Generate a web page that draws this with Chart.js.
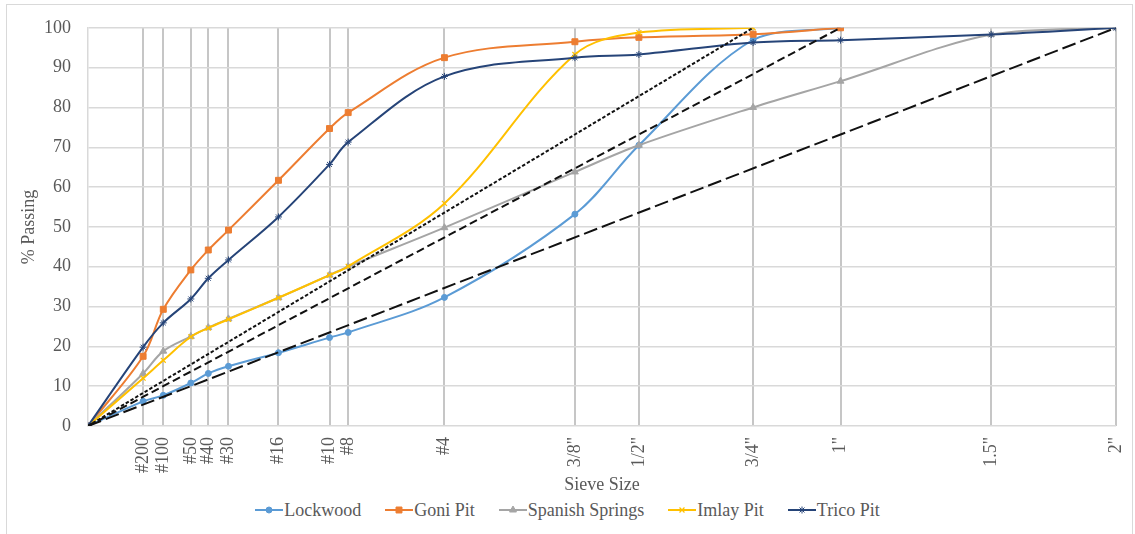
<!DOCTYPE html>
<html>
<head>
<meta charset="utf-8">
<title>Sieve Analysis</title>
<script src="https://cdn.jsdelivr.net/npm/chart.js"></script>
<style>
    body { margin: 0; background: #fff; }
    #wrap { position: relative; width: 1135px; height: 534px; overflow: hidden; background: #fff; }
    #frame { position: absolute; left: 6px; top: 4px; width: 1125px; height: 560px; border: 1px solid #d9d9d9; pointer-events: none; }
    #gradationChart { position: absolute; left: 0; top: 0; }
    #legend {
        position: absolute; left: 0; top: 499px; width: 1135px;
        display: flex; justify-content: center; align-items: center;
        font: 18px "Liberation Serif", "Times New Roman", serif; line-height: 22px; color: #595959;
    }
    .item { display: flex; align-items: center; margin: 0 12px; }
    .item canvas { margin-right: 1px; }
</style>
</head>
<body>
<div id="wrap">
    <canvas id="gradationChart" width="1135" height="496"></canvas>
    <div id="legend"></div>
    <div id="frame"></div>
</div>
<script>
// sieve openings (mm) and their labels
const sieveLabels = ['#200', '#100', '#50', '#40', '#30', '#16', '#10', '#8', '#4', '3/8"', '1/2"', '3/4"', '1"', '1.5"', '2"'];
const sieveSizesMm = [0.075, 0.15, 0.3, 0.425, 0.6, 1.18, 2.0, 2.36, 4.75, 9.5, 12.5, 19.0, 25.0, 37.5, 50.0];

// % passing per sieve (null = not tested)
const lockwood       = [6.2, 7.7, 10.8, 13.2, 15.0, 18.4, 22.2, 23.5, 32.3, 53.2, 70.5, 97.0, 100, null, null];
const goniPit        = [17.5, 29.3, 39.2, 44.2, 49.2, 61.7, 74.7, 78.7, 92.5, 96.5, 97.6, 98.4, 100, null, null];
const spanishSprings = [13.2, 18.8, 22.5, 24.7, 26.9, 32.2, 37.9, 40.0, 49.8, 63.8, 70.5, 80.0, 86.6, 98.3, 100];
const imlayPit       = [12.0, 16.5, 22.4, 24.6, 26.8, 32.2, 37.9, 40.1, 55.9, 93.3, 98.8, 100, null, null, null];
const tricoPit       = [19.8, 25.9, 31.9, 37.1, 41.7, 52.5, 65.7, 71.3, 87.8, 92.5, 93.3, 96.3, 96.9, 98.3, 100];

// maximum density lines for 3/4", 1" and 2" nominal max size
const maxDensitySizesMm = [19.0, 25.0, 50.0];

const POWER = 0.45;
const FONT = '"Liberation Serif", "Times New Roman", serif';
const TEXT = '#595959';

const series = [
    { label: 'Lockwood',        values: lockwood,       color: '#5B9BD5', pointStyle: 'circle',   radius: 3,   pointBorder: 1 },
    { label: 'Goni Pit',        values: goniPit,        color: '#ED7D31', pointStyle: 'rect',     radius: 4.2, pointBorder: 1 },
    { label: 'Spanish Springs', values: spanishSprings, color: '#A5A5A5', pointStyle: 'triangle', radius: 4,   pointBorder: 1 },
    { label: 'Imlay Pit',       values: imlayPit,       color: '#FFC000', pointStyle: 'crossRot', radius: 3.5, pointBorder: 1.2 },
    { label: 'Trico Pit',       values: tricoPit,       color: '#264478', pointStyle: 'star',     radius: 3.5, pointBorder: 1 }
];
const densityDashes = [[3.5, 2], [8, 4], [14, 5]];

function toPoints(values) {
    const pts = [{ x: 0, y: 0 }];
    values.forEach(function (v, i) {
        if (v !== null) pts.push({ x: Math.pow(sieveSizesMm[i], POWER), y: v });
    });
    return pts;
}

const datasets = series.map(function (s, i) {
    return {
        label: s.label,
        data: toPoints(s.values),
        borderColor: s.color,
        backgroundColor: s.color,
        borderWidth: 2,
        pointStyle: s.pointStyle,
        pointRadius: s.radius,
        pointBorderWidth: s.pointBorder,
        tension: 0.35,
        order: series.length - i
    };
});
maxDensitySizesMm.forEach(function (size, i) {
    datasets.push({
        label: 'Max density ' + size + ' mm',
        data: [{ x: 0, y: 0 }, { x: Math.pow(size, POWER), y: 100 }],
        borderColor: '#111111',
        borderWidth: 2,
        borderDash: densityDashes[i],
        pointRadius: 0,
        tension: 0,
        order: 0
    });
});

const ctx = document.getElementById('gradationChart').getContext('2d');
const chart = new Chart(ctx, {
    type: 'line',
    data: { datasets: datasets },
    options: {
        responsive: false,
        animation: false,
        layout: { padding: { left: 18, right: 19, top: 26, bottom: 0 } },
        plugins: {
            legend: { display: false },
            tooltip: { enabled: false }
        },
        scales: {
            x: {
                type: 'linear',
                min: 0,
                max: Math.pow(sieveSizesMm[sieveSizesMm.length - 1], POWER),
                afterBuildTicks: function (scale) {
                    scale.ticks = sieveSizesMm.map(function (s) { return { value: Math.pow(s, POWER) }; });
                },
                afterFit: function (scale) {
                    scale.height = 70;
                    scale.paddingLeft = 0;
                    scale.paddingRight = 0;
                },
                ticks: {
                    autoSkip: false,
                    minRotation: 90,
                    maxRotation: 90,
                    padding: 11,
                    color: TEXT,
                    font: { family: FONT, size: 18 },
                    callback: function (value, index) { return sieveLabels[index]; }
                },
                grid: { color: '#c6c6c6', lineWidth: 2, drawTicks: false },
                border: { display: false },
                title: { display: true, text: 'Sieve Size', color: TEXT, font: { family: FONT, size: 18 }, padding: 0 }
            },
            y: {
                min: 0,
                max: 100,
                afterFit: function (scale) { scale.width = 70; },
                ticks: { stepSize: 10, padding: 17, color: TEXT, font: { family: FONT, size: 18 } },
                grid: { color: '#d9d9d9', lineWidth: 1.5, drawTicks: false },
                border: { color: '#d9d9d9', width: 1.5 },
                title: { display: true, text: '% Passing', color: TEXT, font: { family: FONT, size: 18 }, padding: 0 }
            }
        }
    }
});

// legend: line + marker swatch, then the series name
const legendBox = document.getElementById('legend');
series.forEach(function (s) {
    const item = document.createElement('div');
    item.className = 'item';
    const swatch = document.createElement('canvas');
    swatch.width = 28;
    swatch.height = 14;
    const sc = swatch.getContext('2d');
    sc.strokeStyle = s.color;
    sc.fillStyle = s.color;
    sc.lineWidth = 2;
    sc.beginPath();
    sc.moveTo(0, 7);
    sc.lineTo(28, 7);
    sc.stroke();
    sc.lineWidth = s.pointBorder;
    Chart.helpers.drawPoint(sc, { pointStyle: s.pointStyle, radius: s.radius, rotation: 0, borderWidth: s.pointBorder }, 14, 7);
    const text = document.createElement('span');
    text.textContent = s.label;
    item.appendChild(swatch);
    item.appendChild(text);
    legendBox.appendChild(item);
});
</script>
</body>
</html>
